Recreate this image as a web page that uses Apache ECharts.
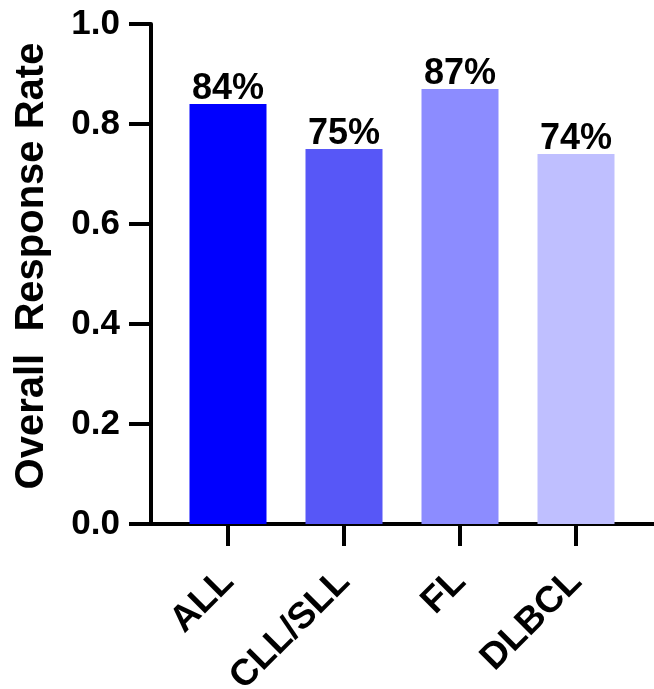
<!DOCTYPE html>
<html>
<head>
<meta charset="utf-8">
<script src="https://cdn.jsdelivr.net/npm/echarts@6/dist/echarts.min.js"></script>
<style>
html,body{margin:0;padding:0;background:#fff;}
#c{width:654px;height:689px;}
</style>
</head>
<body>
<div id="c"></div>
<script>
const categories = ['ALL', 'CLL/SLL', 'FL', 'DLBCL'];
const responseRates = [0.84, 0.75, 0.87, 0.74];
const dataLabels = ['84%', '75%', '87%', '74%'];
const barColors = ['#0000FF', '#5757F7', '#8C8CFF', '#BFBFFF'];
const yTicks = [0, 0.2, 0.4, 0.6, 0.8, 1.0];
const yTitle = 'Overall  Response Rate';

const FONT = '"Liberation Sans", Arial, Helvetica, sans-serif';
const chart = echarts.init(document.getElementById('c'));
chart.setOption({
  animation: false,
  backgroundColor: '#fff',
  grid: [
    {left: 170, right: 20, top: 24, bottom: 165, containLabel: false, outerBoundsMode: 'none'},
    {left: 151, right: 0, top: 24, bottom: 165, containLabel: false, outerBoundsMode: 'none'}
  ],
  xAxis: [
    {
      type: 'category', gridIndex: 0, data: categories,
      axisLine: {show: false},
      axisTick: {show: true, alignWithLabel: true, length: 22, lineStyle: {color: '#000', width: 4}},
      axisLabel: {rotate: 45, margin: 52, color: '#000', fontSize: 37, fontWeight: 'bold', fontFamily: FONT},
      splitLine: {show: false}
    },
    {
      type: 'value', gridIndex: 1, min: 0, max: 1,
      axisLine: {show: true, lineStyle: {color: '#000', width: 4}},
      axisTick: {show: false}, axisLabel: {show: false}, splitLine: {show: false}
    }
  ],
  yAxis: [
    {type: 'value', gridIndex: 0, min: 0, max: 1, show: false, splitLine: {show: false}},
    {
      type: 'value', gridIndex: 1, min: 0, max: 1, interval: 0.2,
      name: yTitle, nameLocation: 'middle', nameGap: 99,
      nameTextStyle: {color: '#000', fontSize: 40, fontWeight: 'bold', fontFamily: FONT, padding: [0, 0, 0, 16]},
      axisLine: {show: true, lineStyle: {color: '#000', width: 4}},
      axisTick: {show: true, length: 22, lineStyle: {color: '#000', width: 4}},
      axisLabel: {margin: 31, color: '#000', fontSize: 35, fontWeight: 'bold', fontFamily: FONT,
        formatter: v => {
          const t = yTicks.find(x => Math.abs(x - v) < 1e-9);
          return (t === undefined ? v : t).toFixed(1);
        }},
      splitLine: {show: false}
    }
  ],
  series: [{
    type: 'bar', xAxisIndex: 0, yAxisIndex: 0,
    barWidth: 77,
    data: responseRates.map((v, i) => ({value: v, itemStyle: {color: barColors[i]}})),
    label: {
      show: true, position: 'top', distance: -3,
      color: '#000', fontSize: 36, fontWeight: 'bold', fontFamily: FONT,
      formatter: p => dataLabels[p.dataIndex]
    }
  }]
});
</script>
</body>
</html>
